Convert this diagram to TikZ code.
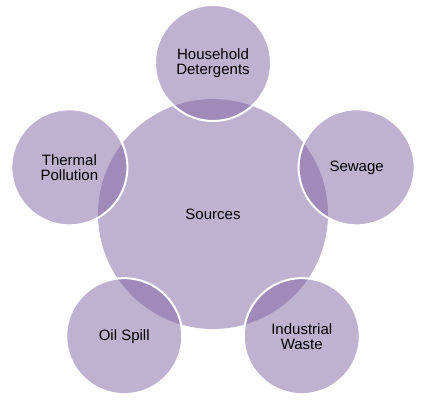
\documentclass[tikz,border=0pt]{standalone}
\usepackage{fontspec}
\setmainfont{Liberation Sans}
\usetikzlibrary{calc}
\definecolor{petal}{HTML}{8064A2}
\tikzset{
  hub/.style={circle, fill=petal, fill opacity=0.5, text opacity=1, draw=none, minimum size=230pt, inner sep=0pt, align=center, font=\fontsize{15}{15}\selectfont},
  petalnode/.style={circle, fill=petal, fill opacity=0.5, text opacity=1, draw=white, draw opacity=1, line width=2pt, minimum size=116pt, inner sep=0pt, align=center, font=\fontsize{15}{15}\selectfont}
}
\begin{document}
\begin{tikzpicture}[x=1pt,y=1pt]
\useasboundingbox (0,0) rectangle (421,-401);
\coordinate (c) at (213,-214);
\node[hub] (src) at (c) {Sources};
\node[petalnode] (hd) at ($(c)+(90:151pt)$) {Household\\Detergents};
\node[petalnode] (sw) at ($(c)+(18:151pt)$) {Sewage};
\node[petalnode] (iw) at ($(c)+(-54:151pt)$) {Industrial\\Waste};
\node[petalnode] (os) at ($(c)+(-126:151pt)$) {Oil Spill};
\node[petalnode] (tp) at ($(c)+(162:151pt)$) {Thermal\\Pollution};
\end{tikzpicture}
\end{document}
